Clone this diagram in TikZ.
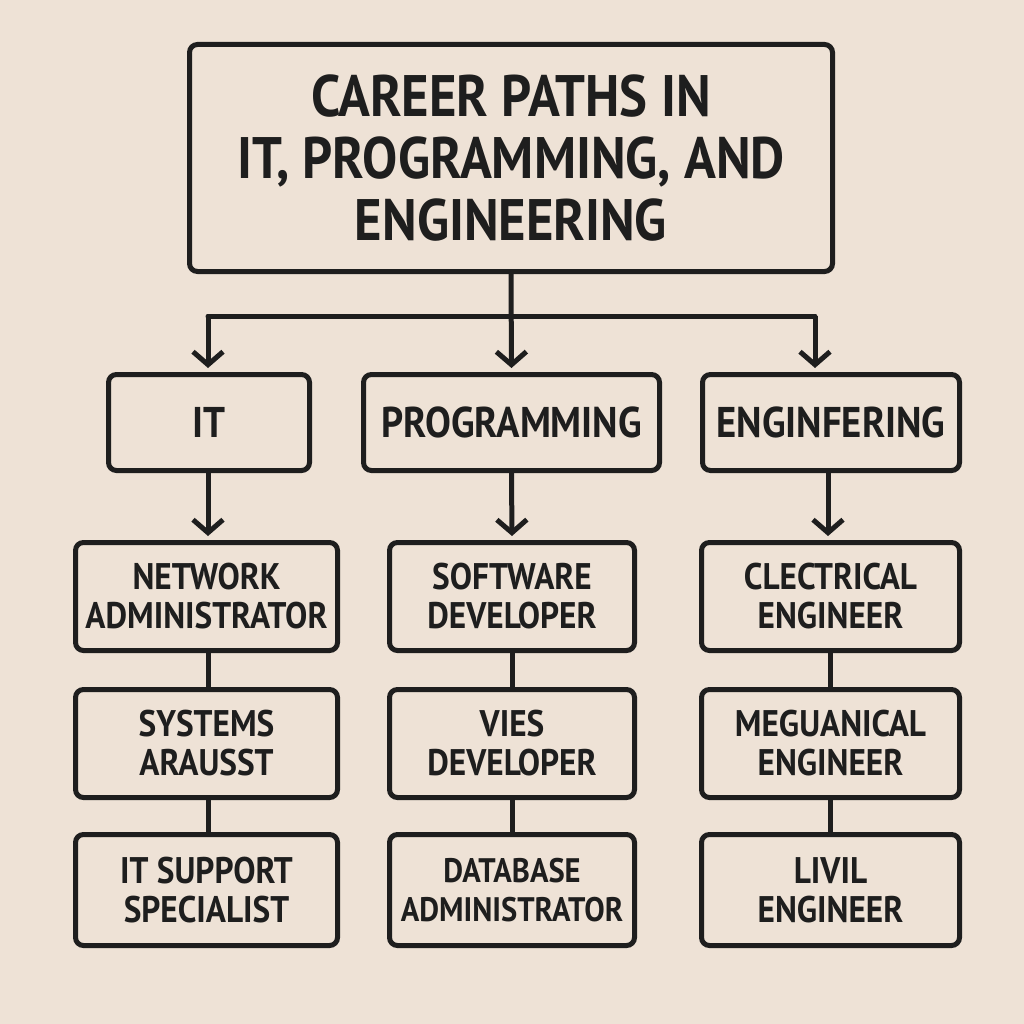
\documentclass[tikz,border=0pt]{standalone}
\usepackage{fontspec}
\setmainfont{PT Sans}[FakeStretch=0.9]
\usetikzlibrary{arrows.meta}
\definecolor{bg}{HTML}{EEE2D6}
\definecolor{ink}{HTML}{1E1E1E}
\tikzset{
  box/.style={draw=ink, line width=5pt, rounded corners=8pt, align=center, text=ink, inner sep=0pt},
  titlefont/.style={font=\fontsize{58.5}{62}\selectfont\bfseries},
  catfont/.style={font=\fontsize{43}{46}\selectfont\bfseries},
  jobfont/.style={font=\fontsize{37}{39}\selectfont\bfseries},
  dbafont/.style={font=\fontsize{34}{39}\selectfont\bfseries},
  link/.style={draw=ink, line width=5pt},
  arr/.style={link, -{Straight Barb[length=13pt,width=30pt]}, shorten >=4pt},
}
\begin{document}
\begin{tikzpicture}[x=1pt,y=-1pt]
\fill[bg] (0,0) rectangle (1024,1024);
\useasboundingbox (0,0) rectangle (1024,1024);
% title
\node[box, titlefont, minimum width=643pt, minimum height=227pt] (title) at (511,158)
  {CAREER PATHS IN\\IT, PROGRAMMING, AND\\ENGINEERING};
% categories
\node[box, catfont, minimum width=201pt, minimum height=96pt] (it) at (209,422.5) {IT};
\node[box, catfont, minimum width=296pt, minimum height=96pt] (prog) at (511.5,422.5) {PROGRAMMING};
\node[box, catfont, minimum width=257pt, minimum height=96pt] (eng) at (831,422.5) {ENGINFERING};
% row 2
\node[box, jobfont, minimum width=262pt, minimum height=108pt] (na) at (206.5,596.5) {NETWORK\\ADMINISTRATOR};
\node[box, jobfont, minimum width=245pt, minimum height=108pt] (sd) at (512,596.5) {SOFTWARE\\DEVELOPER};
\node[box, jobfont, minimum width=258pt, minimum height=108pt] (ce) at (830.5,596.5) {CLECTRICAL\\ENGINEER};
% row 3
\node[box, jobfont, minimum width=262pt, minimum height=108pt] (sa) at (206.5,743.5) {SYSTEMS\\ARAUSST};
\node[box, jobfont, minimum width=245pt, minimum height=108pt] (wd) at (512,743.5) {VIES\\DEVELOPER};
\node[box, jobfont, minimum width=258pt, minimum height=108pt] (me) at (830.5,743.5) {MEGUANICAL\\ENGINEER};
% row 4
\node[box, jobfont, minimum width=262pt, minimum height=111pt] (its) at (206.5,890) {IT SUPPORT\\SPECIALIST};
\node[box, dbafont, minimum width=245pt, minimum height=111pt] (dba) at (512,890) {DATABASE\\ADMINISTRATOR};
\node[box, jobfont, minimum width=258pt, minimum height=111pt] (cv) at (830.5,890) {LIVIL\\ENGINEER};
% connectors from title
\coordinate (bl) at (208,316);
\coordinate (br) at (815,316);
\draw[link, line cap=round, line join=round] (bl) -- (br);
\draw[arr] (title.south) -- (prog.north);
\draw[arr] (bl) -- (bl |- it.north);
\draw[arr] (br) -- (br |- eng.north);
% categories to first jobs
\draw[arr] (it.south -| bl) -- (na.north -| bl);
\draw[arr] (prog.south) -- (sd.north);
\coordinate (ex) at (828,0);
\draw[arr] (eng.south -| ex) -- (ce.north -| ex);
% chains
\draw[link] (na.south -| bl) -- (sa.north -| bl);
\draw[link] (sa.south -| bl) -- (its.north -| bl);
\draw[link] (sd) -- (wd);
\draw[link] (wd) -- (dba);
\draw[link] (ce) -- (me);
\draw[link] (me) -- (cv);
\end{tikzpicture}
\end{document}
